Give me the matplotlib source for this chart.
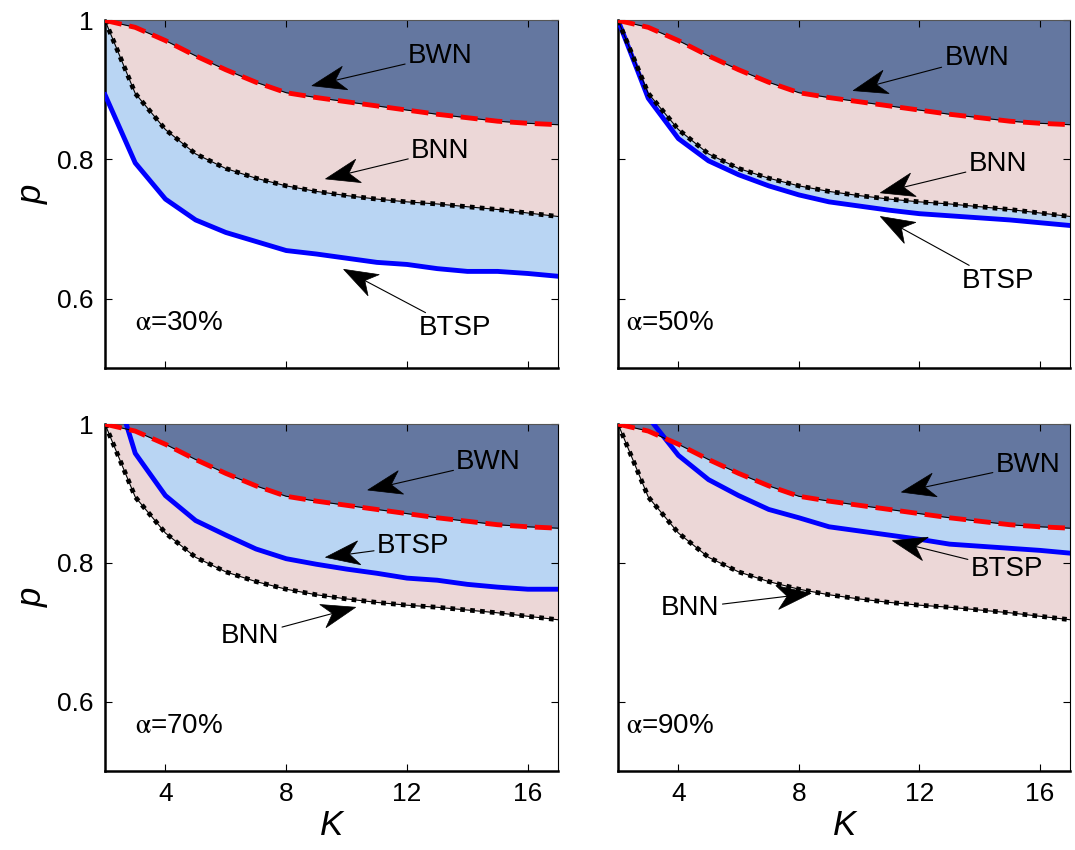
import numpy as np
import matplotlib
matplotlib.use('Agg')
import matplotlib.pyplot as plt
from matplotlib.patches import Polygon
from matplotlib.transforms import IdentityTransform

plt.rcParams['font.family'] = ['Liberation Sans', 'DejaVu Sans']
plt.rcParams['mathtext.fontset'] = 'stix'

# data
K = list(range(2, 18))
bwn = [1.000, 0.990, 0.971, 0.949, 0.929, 0.911, 0.896, 0.889,
       0.883, 0.877, 0.871, 0.865, 0.860, 0.855, 0.852, 0.850]
bnn = [1.000, 0.895, 0.843, 0.808, 0.787, 0.773, 0.762, 0.754,
       0.748, 0.743, 0.739, 0.736, 0.732, 0.728, 0.723, 0.718]
btsp30 = [0.893, 0.795, 0.743, 0.713, 0.695, 0.682, 0.669, 0.664,
          0.658, 0.652, 0.649, 0.643, 0.639, 0.639, 0.636, 0.632]
btsp50 = [1.000, 0.888, 0.830, 0.798, 0.778, 0.762, 0.749, 0.739,
          0.733, 0.727, 0.722, 0.719, 0.716, 0.713, 0.709, 0.705]
btsp70 = [1.100, 0.958, 0.897, 0.861, 0.840, 0.820, 0.806, 0.798,
          0.791, 0.785, 0.778, 0.775, 0.769, 0.765, 0.762, 0.762]
btsp90 = [1.080, 1.010, 0.955, 0.920, 0.897, 0.877, 0.865, 0.852,
          0.846, 0.840, 0.834, 0.827, 0.824, 0.821, 0.818, 0.814]

alphas = ['30%', '50%', '70%', '90%']
btsp_all = [btsp30, btsp50, btsp70, btsp90]

# label text position, arrow tip (data coords) for each panel
notes = [
    {'BWN': ((13.1, 0.949), (8.85, 0.906)),
     'BNN': ((13.1, 0.812), (9.3, 0.772)),
     'BTSP': ((13.6, 0.557), (9.9, 0.642))},
    {'BWN': ((13.9, 0.946), (9.8, 0.899)),
     'BNN': ((14.6, 0.793), (10.7, 0.752)),
     'BTSP': ((14.6, 0.625), (10.7, 0.718))},
    {'BWN': ((14.7, 0.945), (10.7, 0.905)),
     'BTSP': ((12.2, 0.825), (9.3, 0.808)),
     'BNN': ((6.8, 0.695), (10.3, 0.736))},
    {'BWN': ((15.6, 0.941), (11.4, 0.902)),
     'BTSP': ((14.9, 0.791), (11.1, 0.832)),
     'BNN': ((4.4, 0.735), (8.4, 0.756))},
]

c_dark = '#6477a0'
c_pink = '#ecd7d7'
c_light = '#b9d5f3'

fig = plt.figure(figsize=(10.75, 8.5), dpi=100)
positions = [
    [0.0977, 0.567, 0.4214, 0.409],
    [0.5750, 0.567, 0.4205, 0.409],
    [0.0977, 0.093, 0.4214, 0.408],
    [0.5750, 0.093, 0.4205, 0.408],
]


def notched_head(ax, tip, tail, length=34, half=12, notch=10):
    # arrow head with swept-back barbs, built in pixel space
    p = ax.transData.transform(tip)
    q = ax.transData.transform(tail)
    d = (q - p) / np.hypot(*(q - p))
    n = np.array([-d[1], d[0]])
    pts = [p, p + d * length + n * half, p + d * (length - notch),
           p + d * length - n * half]
    fig.patches.append(Polygon(pts, closed=True, facecolor='k',
                               edgecolor='k', lw=0.5,
                               transform=IdentityTransform(), figure=fig,
                               zorder=7))


axes = []
for i in range(4):
    ax = fig.add_axes(positions[i])
    axes.append(ax)
    btsp = btsp_all[i]

    # fills: lower curves first, BWN region always on top
    lower = [(btsp, c_light), (bnn, c_pink)]
    lower.sort(key=lambda t: np.median(t[0]))
    for curve, col in lower:
        ax.fill_between(K, curve, 1, color=col, lw=0, zorder=1)
    ax.fill_between(K, bwn, 1, color=c_dark, lw=0, zorder=1)

    ax.plot(K, btsp, color='#0000ff', lw=3.5, zorder=3)
    ax.plot(K, bnn, color='k', lw=0.8, zorder=3)
    ax.plot(K, bnn, color='k', lw=3.4, dashes=(1.0, 1.1), zorder=3)
    ax.plot(K, bwn, color='k', lw=0.8, zorder=4)
    ax.plot(K, bwn, color='#ff0000', lw=3.5, dashes=(3.5, 1.6), zorder=4)

    ax.text(3.0 if i % 2 == 0 else 2.25, 0.565,
            r'$\mathrm{\alpha}$=' + alphas[i],
            fontsize=20, ha='left', va='center')

    ax.set_xlim(2, 17)
    ax.set_ylim(0.5, 1)
    ax.set_xticks([4, 8, 12, 16])
    ax.set_yticks([0.6, 0.8, 1])
    ax.set_yticklabels(['0.6', '0.8', '1'])
    ax.tick_params(direction='in', length=5, width=0.8, labelsize=19,
                   top=True, right=True, pad=8)
    for s in ['left', 'bottom']:
        ax.spines[s].set_linewidth(1.8)
    for s in ['top', 'right']:
        ax.spines[s].set_linewidth(0.8)
    ax.spines['top'].set_color('#555555')

    if i % 2 == 0:
        ax.set_ylabel('p', fontsize=25, style='italic', labelpad=6)
    else:
        ax.set_yticklabels([])
    if i >= 2:
        ax.set_xlabel('K', fontsize=25, style='italic', labelpad=2)
    else:
        ax.set_xticklabels([])

for i, ax in enumerate(axes):
    for name, (txt, tip) in notes[i].items():
        ax.annotate(name, xy=tip, xytext=txt, ha='center', va='center',
                    fontsize=20, zorder=6,
                    arrowprops=dict(arrowstyle='-', color='k', lw=0.8,
                                    shrinkA=0, shrinkB=8))
        notched_head(ax, tip, txt)

fig.savefig('out.png', dpi=100)
